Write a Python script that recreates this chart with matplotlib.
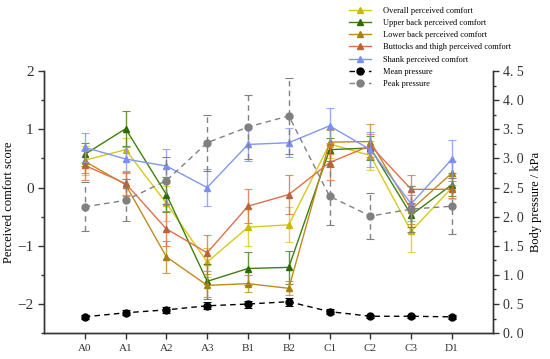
import numpy as np
import matplotlib
matplotlib.use('Agg')
import matplotlib.pyplot as plt
from matplotlib.ticker import MultipleLocator, FuncFormatter

plt.rcParams['font.family'] = ['Liberation Serif', 'DejaVu Serif']

positions = ['A0', 'A1', 'A2', 'A3', 'B1', 'B2', 'C1', 'C2', 'C3', 'D1']

overall = [0.47, 0.65, -0.27, -1.28, -0.68, -0.64, 0.75, 0.55, -0.75, 0.00]
overall_err = [0.25, 0.20, 0.30, 0.25, 0.33, 0.30, 0.25, 0.25, 0.35, 0.20]
upper_back = [0.57, 1.01, -0.12, -1.61, -1.39, -1.37, 0.65, 0.68, -0.47, 0.05]
upper_back_err = [0.20, 0.30, 0.30, 0.30, 0.28, 0.28, 0.20, 0.20, 0.20, 0.20]
lower_back = [0.45, 0.05, -1.19, -1.68, -1.65, -1.73, 0.78, 0.79, -0.38, 0.25]
lower_back_err = [0.20, 0.20, 0.28, 0.20, 0.15, 0.12, 0.20, 0.30, 0.25, 0.20]
buttocks = [0.38, 0.07, -0.71, -1.12, -0.32, -0.12, 0.43, 0.72, -0.03, -0.03]
buttocks_err = [0.25, 0.20, 0.30, 0.31, 0.29, 0.34, 0.30, 0.20, 0.25, 0.15]
shank = [0.69, 0.49, 0.37, 0.00, 0.74, 0.77, 1.06, 0.65, -0.28, 0.49]
shank_err = [0.25, 0.20, 0.30, 0.32, 0.28, 0.25, 0.30, 0.30, 0.30, 0.33]

mean_p = [0.28, 0.35, 0.40, 0.47, 0.50, 0.54, 0.37, 0.29, 0.29, 0.28]
mean_p_err = [0.03, 0.04, 0.05, 0.06, 0.06, 0.07, 0.04, 0.03, 0.03, 0.03]
peak_p = [2.17, 2.28, 2.62, 3.27, 3.54, 3.73, 2.35, 2.01, 2.13, 2.18]
peak_p_err = [0.42, 0.36, 0.40, 0.48, 0.55, 0.65, 0.50, 0.40, 0.40, 0.48]

comfort = [
    ('Overall perceived comfort', overall, overall_err, '#d8c81c', '#c8b800'),
    ('Upper back perceived comfort', upper_back, upper_back_err, '#3f7f10', '#2f6a05'),
    ('Lower back perceived comfort', lower_back, lower_back_err, '#c08a1c', '#a8800c'),
    ('Buttocks and thigh perceived comfort', buttocks, buttocks_err, '#e0704a', '#b8643a'),
    ('Shank perceived comfort', shank, shank_err, '#8098f0', '#7890f0'),
]

fig = plt.figure(figsize=(5.5, 3.59), dpi=100)
ax = fig.add_axes([0.08, 0.072, 0.816, 0.73])
ax2 = ax.twinx()

x = np.arange(len(positions))
handles = []
for name, vals, err, lc, mc in comfort:
    ax.errorbar(x, vals, yerr=err, fmt='none', ecolor=lc, elinewidth=1,
                capsize=3, capthick=0.8, alpha=0.8)
    h, = ax.plot(x, vals, '-', color=lc, lw=1, marker='^', ms=5,
                 markerfacecolor=mc, markeredgecolor=mc, label=name)
    handles.append(h)

ax2.errorbar(x, mean_p, yerr=mean_p_err, fmt='none', ecolor='black',
             elinewidth=1, capsize=3, capthick=0.8)
h, = ax2.plot(x, mean_p, '--', color='black', lw=1, marker='o', ms=5,
              dashes=(4, 3), label='Mean pressure')
handles.append(h)
eb = ax2.errorbar(x, peak_p, yerr=peak_p_err, fmt='none', ecolor='#808080',
                  elinewidth=1, capsize=3, capthick=0.8)
eb[2][0].set_linestyle((0, (4, 3)))
h, = ax2.plot(x, peak_p, '--', color='#808080', lw=1, marker='o', ms=5,
              dashes=(4, 3), label='Peak pressure')
handles.append(h)

ax.set_xlim(-1, 10)
ax.set_ylim(-2.5, 2)
ax2.set_ylim(0, 4.5)
ax.set_xticks(x)
ax.set_xticklabels(positions)

ax.yaxis.set_major_locator(MultipleLocator(1))
ax.yaxis.set_minor_locator(MultipleLocator(0.5))
ax2.yaxis.set_major_locator(MultipleLocator(0.5))
ax2.yaxis.set_minor_locator(MultipleLocator(0.25))
ax2.yaxis.set_major_formatter(FuncFormatter(lambda v, p: ('%.1f' % v).replace('.', '. ')))
ax.yaxis.set_major_formatter(FuncFormatter(lambda v, p: ('%d' % v).replace('-', '\u2212')))

for a in (ax, ax2):
    a.spines['top'].set_visible(False)
    for s in a.spines.values():
        s.set_linewidth(1.0)
        s.set_color('#333333')
    a.tick_params(axis='both', which='major', direction='out', length=4,
                  width=1, labelsize=10, colors='#333333')
    a.tick_params(axis='y', which='minor', direction='out', length=2.5, width=1,
                  colors='#333333')
ax.tick_params(axis='x', labelsize=8)
ax.tick_params(axis='y', labelsize=11)
ax2.tick_params(axis='y', labelsize=10)

ax.set_ylabel('Perceived comfort score', fontsize=9, labelpad=2)
ax2.set_ylabel('Body pressure / kPa', fontsize=9, labelpad=4)

fig.legend(handles=handles, loc='upper left', bbox_to_anchor=(0.624, 0.997),
           frameon=False, fontsize=6, handlelength=2.65, handletextpad=1.4,
           labelspacing=0.5, borderpad=0.2)

fig.savefig('out.png', dpi=100)
